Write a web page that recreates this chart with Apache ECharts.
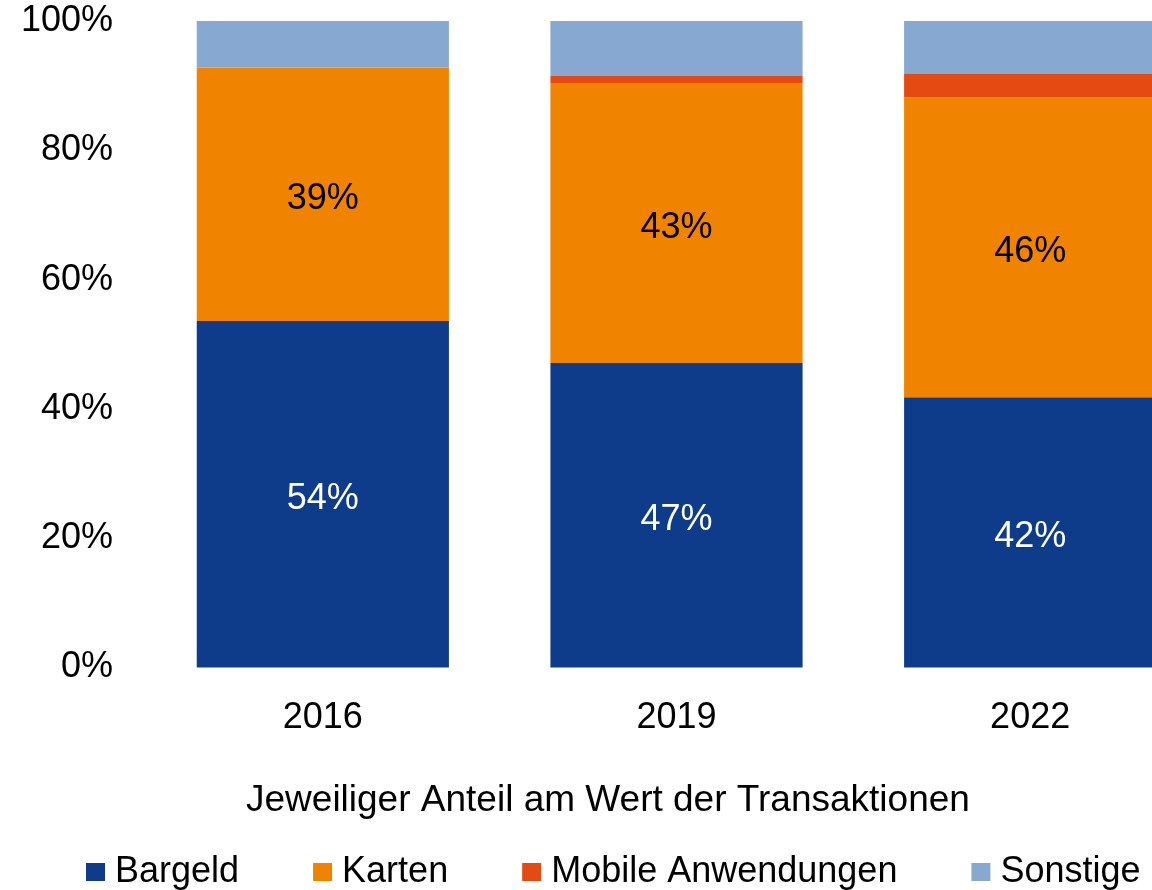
<!DOCTYPE html>
<html>
<head>
<meta charset="utf-8">
<script src="https://cdn.jsdelivr.net/npm/echarts@6/dist/echarts.min.js"></script>
<style>
  html, body { margin: 0; padding: 0; background: #fff; overflow: hidden; }
  /* the last bar runs past the right edge in the original, so the chart is wider than the window */
  #main { width: 1208px; height: 890px; }
</style>
</head>
<body>
<div id="main"></div>
<script>
// Anteile in Prozent, von unten nach oben gestapelt
const years = ['2016', '2019', '2022'];
const bargeld = [53.6, 47.1, 41.8];
const karten = [39.2, 43.3, 46.4];
const mobile = [0, 1.1, 3.6];
const sonstige = [7.2, 8.5, 8.2];

const seriesNames = ['Bargeld', 'Karten', 'Mobile Anwendungen', 'Sonstige'];
const seriesColors = ['#0f3c8a', '#f08300', '#e54a12', '#87a8d0'];
const labelColors = ['#ffffff', '#000000', null, null];
const yTicks = [0, 20, 40, 60, 80, 100];

const font = 'Liberation Sans, Arial, sans-serif';
const rawData = [bargeld, karten, mobile, sonstige];

const series = seriesNames.map((name, sid) => {
    return {
        name,
        type: 'bar',
        stack: 'total',
        barCategoryGap: '28.7%',
        itemStyle: { color: seriesColors[sid] },
        label: {
            show: labelColors[sid] != null,
            position: 'inside',
            offset: [0, 5],
            color: labelColors[sid] || '#000',
            fontFamily: font,
            fontSize: 36,
            formatter: (p) => Math.round(p.value) + '%'
        },
        emphasis: { disabled: true },
        data: rawData[sid]
    };
});

const myChart = echarts.init(document.getElementById('main'), null, { renderer: 'canvas' });

myChart.setOption({
    animation: false,
    backgroundColor: '#ffffff',
    textStyle: { fontFamily: font },
    title: {
        text: 'Jeweiliger Anteil am Wert der Transaktionen',
        left: 246,
        top: 782,
        padding: 0,
        textStyle: { fontFamily: font, fontSize: 37, fontWeight: 'normal', color: '#000' }
    },
    legend: {
        data: seriesNames,
        left: 86,
        top: 854,
        padding: 0,
        itemWidth: 19,
        itemHeight: 18,
        itemGap: 74,
        icon: 'rect',
        selectedMode: false,
        textStyle: { fontFamily: font, fontSize: 36, color: '#000', lineHeight: 36, padding: [0, 0, 0, 5] }
    },
    grid: {
        left: 146,
        right: 1,
        top: 21,
        bottom: 222.5,
        containLabel: false
    },
    xAxis: {
        type: 'category',
        data: years,
        axisLine: { show: false },
        axisTick: { show: false },
        axisLabel: { fontFamily: font, fontSize: 36, color: '#000', margin: 33 }
    },
    yAxis: {
        type: 'value',
        min: yTicks[0],
        max: yTicks[yTicks.length - 1],
        interval: 20,
        axisLine: { show: false },
        axisTick: { show: false },
        splitLine: { show: false },
        axisLabel: {
            fontFamily: font,
            fontSize: 36,
            color: '#000',
            margin: 33,
            padding: [8, 0, 0, 0],
            formatter: (v) => v + '%'
        }
    },
    series
});
</script>
</body>
</html>
